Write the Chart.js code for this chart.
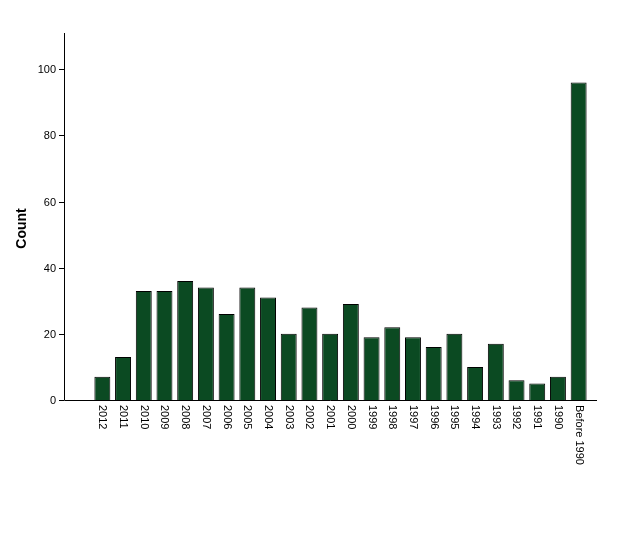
<!DOCTYPE html>
<html>
<head>
<meta charset="utf-8">
<script src="https://cdn.jsdelivr.net/npm/chart.js@4"></script>
<style>
  html, body { margin:0; padding:0; background:#fff; }
  #wrap { width:626px; height:541px; }
</style>
</head>
<body>
<div id="wrap"><canvas id="chart" width="626" height="541"></canvas></div>
<script>
'use strict';
const categories = ['2012','2011','2010','2009','2008','2007','2006','2005','2004','2003','2002','2001','2000','1999','1998','1997','1996','1995','1994','1993','1992','1991','1990','Before 1990'];
const counts = [7,13,33,33,36,34,26,34,31,20,28,20,29,19,22,19,16,20,10,17,6,5,7,96];
const yTicks = [0,20,40,60,80,100];

const FONT = '11px Arial, "Liberation Sans", sans-serif';
const AXIS_X = 64, AXIS_END = 597;

// axes drawn by hand: y axis sits left of the first bar gap, x labels read top-down
const axesPlugin = {
  id: 'axes',
  afterDraw(chart) {
    const { ctx, chartArea, scales: { x, y } } = chart;
    ctx.save();
    ctx.strokeStyle = '#000';
    ctx.lineWidth = 1;
    ctx.beginPath();
    ctx.moveTo(AXIS_X + 0.5, chartArea.top);
    ctx.lineTo(AXIS_X + 0.5, y.getPixelForValue(0) + 0.5);
    ctx.lineTo(AXIS_END, y.getPixelForValue(0) + 0.5);
    ctx.stroke();

    ctx.fillStyle = '#000';
    ctx.font = FONT;
    ctx.textAlign = 'right';
    ctx.textBaseline = 'middle';
    yTicks.forEach(v => {
      const py = Math.round(y.getPixelForValue(v)) + 0.5;
      ctx.beginPath();
      ctx.moveTo(AXIS_X - 5, py);
      ctx.lineTo(AXIS_X, py);
      ctx.stroke();
      ctx.fillText(String(v), AXIS_X - 8, py);
    });

    const base = y.getPixelForValue(0) + 5;
    categories.forEach((c, i) => {
      ctx.save();
      ctx.translate(x.getPixelForTick(i), base);
      ctx.rotate(Math.PI / 2);
      ctx.textAlign = 'left';
      ctx.textBaseline = 'middle';
      ctx.fillText(c, 0, 0);
      ctx.restore();
    });

    ctx.save();
    ctx.translate(22, (chartArea.top + chartArea.bottom) / 2 + 12);
    ctx.rotate(-Math.PI / 2);
    ctx.font = 'bold 14px Arial, "Liberation Sans", sans-serif';
    ctx.textAlign = 'center';
    ctx.textBaseline = 'middle';
    ctx.fillText('Count', 0, 0);
    ctx.restore();
    ctx.restore();
  }
};

new Chart(document.getElementById('chart'), {
  type: 'bar',
  data: {
    labels: categories,
    datasets: [{
      data: counts,
      backgroundColor: '#0b4a22',
      borderColor: '#000',
      borderWidth: 1,
      barPercentage: 0.77,
      categoryPercentage: 1
    }]
  },
  plugins: [axesPlugin],
  options: {
    responsive: false,
    animation: false,
    layout: { padding: { top: 33, right: 37, left: 92, bottom: 0 } },
    plugins: { legend: { display: false }, tooltip: { enabled: false } },
    scales: {
      x: {
        grid: { display: false, drawTicks: false },
        border: { display: false },
        ticks: { display: false },
        afterFit: s => { s.height = 141; }
      },
      y: {
        display: false,
        min: 0, max: 111
      }
    }
  }
});
</script>
</body>
</html>
